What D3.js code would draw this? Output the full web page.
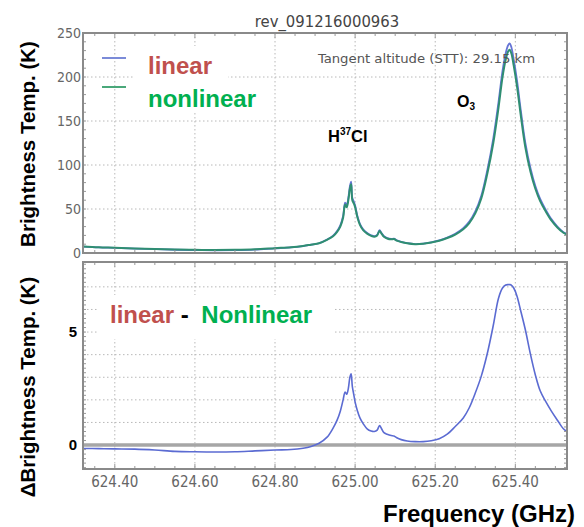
<!DOCTYPE html>
<html>
<head>
<meta charset="utf-8">
<script src="https://cdn.jsdelivr.net/npm/d3@7"></script>
<style>
  html, body { margin: 0; padding: 0; background: #fff; }
  svg { display: block; }
</style>
</head>
<body>
<svg id="chart" width="584" height="527"></svg>
<script>
// Frequency grid (GHz)
const freqGHz = [
  624.320, 624.360, 624.400, 624.450, 624.500, 624.550, 624.600, 624.650, 624.700, 624.750,
  624.800, 624.840, 624.870, 624.890, 624.910, 624.930, 624.945, 624.955, 624.963, 624.970,
  624.975, 624.979, 624.983, 624.987, 624.990, 624.993, 624.997, 625.000, 625.006, 625.012,
  625.020, 625.030, 625.040, 625.048, 625.055, 625.061, 625.066, 625.072, 625.080, 625.090,
  625.097, 625.104, 625.115, 625.130, 625.150, 625.170, 625.190, 625.210, 625.230, 625.250,
  625.270, 625.285, 625.300, 625.315, 625.330, 625.345, 625.358, 625.368, 625.376, 625.382,
  625.386, 625.390, 625.396, 625.404, 625.414, 625.425, 625.438, 625.450, 625.462, 625.475,
  625.490, 625.505, 625.520, 625.529
];

// Brightness temperature, nonlinear calibration (K)
const nonlinearK = [
  7.5, 6.5, 6.0, 5.2, 4.6, 4.0, 3.6, 3.4, 3.6, 4.2,
  5.5, 6.5, 8.0, 9.5, 11, 15, 19, 24, 30, 40,
  55, 52, 60, 73, 78, 60, 56, 52, 40, 32,
  26, 22, 19.5, 18.5, 20, 25, 22, 18.5, 16.5, 15.5,
  15.8, 14, 12.5, 11, 10, 10.5, 12, 14, 17, 21,
  27, 34, 45, 62, 90, 125, 165, 200, 220, 229,
  231, 227, 213, 190, 155, 120, 92, 73, 59, 48,
  37, 29, 23, 21
];

// Brightness temperature, linear calibration (K)
const linearK = [
  7.35, 6.34, 5.83, 5.02, 4.38, 3.72, 3.30, 3.09, 3.30, 3.94,
  5.28, 6.30, 7.86, 9.44, 11.08, 15.35, 19.75, 25.1, 31.5, 42.0,
  57.35, 54.25, 62.5, 76.0, 81.15, 62.6, 58.2, 53.9, 41.5, 33.2,
  26.95, 22.72, 20.12, 19.1, 20.66, 25.86, 22.72, 19.05, 16.98, 15.92,
  16.2, 14.32, 12.74, 11.18, 10.15, 10.65, 12.19, 14.28, 17.48, 21.82,
  28.2, 35.65, 47.3, 65.05, 94.05, 130.3, 171.5, 206.95, 227.08, 236.1,
  238.1, 234.08, 219.95, 196.6, 160.9, 125.1, 96.0, 76.1, 61.4, 49.95,
  38.5, 30.1, 23.72, 21.6
];

// Difference linear - nonlinear (K)
const deltaK = [
  -0.15, -0.16, -0.17, -0.18, -0.22, -0.28, -0.30, -0.31, -0.30, -0.26,
  -0.22, -0.20, -0.14, -0.06, 0.08, 0.35, 0.75, 1.1, 1.5, 2.0,
  2.35, 2.25, 2.5, 3.0, 3.15, 2.6, 2.2, 1.9, 1.5, 1.2,
  0.95, 0.72, 0.62, 0.60, 0.66, 0.86, 0.72, 0.55, 0.48, 0.42,
  0.40, 0.32, 0.24, 0.18, 0.15, 0.15, 0.19, 0.28, 0.48, 0.82,
  1.20, 1.65, 2.3, 3.05, 4.05, 5.3, 6.5, 6.95, 7.08, 7.1,
  7.1, 7.08, 6.95, 6.6, 5.9, 5.1, 4.0, 3.1, 2.4, 1.95,
  1.5, 1.1, 0.72, 0.6
];

const xTickValues = [624.40, 624.60, 624.80, 625.00, 625.20, 625.40];
const topTickValues = [0, 50, 100, 150, 200, 250];
const bottomTickValues = [0, 5];
const bottomGridValues = [1, 2, 3, 4, 5, 6, 7];

const svg = d3.select("#chart");
const L = 83, R = 567;
const top1 = 33, bot1 = 253;
const top2 = 262, bot2 = 469;

const x = d3.scaleLinear().domain([624.3206, 625.529]).range([L, R]);
const yTop = d3.scaleLinear().domain([0, 250]).range([bot1, top1]);
const yBot = d3.scaleLinear().domain([-1.06, 8.10]).range([bot2, top2]);

const gridColor = "#b8b8b8";
const frameColor = "#8a8a8a";

function grid(g, yScale, yVals, y0, y1) {
  g.selectAll("line.vg").data(xTickValues).join("line")
    .attr("class", "vg")
    .attr("x1", d => x(d)).attr("x2", d => x(d))
    .attr("y1", y0).attr("y2", y1)
    .attr("stroke", gridColor).attr("stroke-width", 1)
    .attr("stroke-dasharray", "1.5,2.5");
  g.selectAll("line.hg").data(yVals).join("line")
    .attr("class", "hg")
    .attr("x1", L).attr("x2", R)
    .attr("y1", d => yScale(d)).attr("y2", d => yScale(d))
    .attr("stroke", gridColor).attr("stroke-width", 1)
    .attr("stroke-dasharray", "1.5,2.5");
}

function frameTicks(g, yScale, yMinor, y0, y1) {
  // inward ticks on all sides
  const xMinor = d3.range(624.35, 625.53, 0.05);
  const tick = (x1, y1_, x2, y2) => g.append("line")
    .attr("x1", x1).attr("y1", y1_).attr("x2", x2).attr("y2", y2)
    .attr("stroke", "#999").attr("stroke-width", 1);
  xMinor.forEach(v => {
    const px = x(v);
    const major = xTickValues.some(t => Math.abs(t - v) < 1e-6);
    const len = major ? 5 : 3;
    tick(px, y1, px, y1 - len);
    tick(px, y0, px, y0 + len);
  });
  yMinor.forEach(v => {
    const py = yScale(v);
    tick(L, py, L + 3, py);
    tick(R, py, R - 3, py);
  });
  g.append("rect")
    .attr("x", L).attr("y", y0).attr("width", R - L).attr("height", y1 - y0)
    .attr("fill", "none").attr("stroke", frameColor).attr("stroke-width", 2);
}

// ---------- Upper panel ----------
const g1 = svg.append("g");
grid(g1, yTop, [50, 100, 150, 200], top1, bot1);

// white box behind legend
g1.append("rect").attr("x", 133).attr("y", 46).attr("width", 95).attr("height", 66).attr("fill", "#fff");

const lineTop = (vals) => d3.line()
  .x((d, i) => x(freqGHz[i]))
  .y(d => yTop(d))
  .curve(d3.curveCatmullRom.alpha(0.5))(vals);

g1.append("path").attr("d", lineTop(linearK))
  .attr("fill", "none").attr("stroke", "#6675d6").attr("stroke-width", 1.8);
g1.append("path").attr("d", lineTop(nonlinearK))
  .attr("fill", "none").attr("stroke", "#2f8e72").attr("stroke-width", 2);

frameTicks(g1, yTop, d3.range(10, 250, 10), top1, bot1);

// y tick labels
g1.selectAll("text.yt").data(topTickValues).join("text")
  .attr("class", "yt")
  .attr("x", 81).attr("y", d => yTop(d))
  .attr("dy", "0.36em")
  .attr("text-anchor", "end")
  .attr("font-family", "DejaVu Sans Condensed, DejaVu Sans")
  .attr("font-size", 14)
  .attr("fill", "#666")
  .text(d => d);

// title and annotation
svg.append("text").attr("x", 327).attr("y", 27).attr("text-anchor", "middle")
  .attr("font-family", "DejaVu Sans Condensed, DejaVu Sans").attr("font-size", 16.5)
  .attr("fill", "#444").text("rev_091216000963");
svg.append("text").attr("x", 318).attr("y", 63)
  .attr("font-family", "DejaVu Sans Condensed, DejaVu Sans").attr("font-size", 12.5)
  .attr("fill", "#555").attr("textLength", 217).attr("lengthAdjust", "spacingAndGlyphs")
  .text("Tangent altitude (STT):  29.15 km");

// legend
g1.append("line").attr("x1", 102).attr("x2", 126).attr("y1", 58).attr("y2", 58)
  .attr("stroke", "#7b8bd8").attr("stroke-width", 2);
g1.append("line").attr("x1", 102).attr("x2", 126).attr("y1", 87).attr("y2", 87)
  .attr("stroke", "#4aa87a").attr("stroke-width", 2);
const bold = "Liberation Sans, Arial, sans-serif";
g1.append("text").attr("x", 148).attr("y", 74).attr("font-family", bold)
  .attr("font-weight", "bold").attr("font-size", 24).attr("fill", "#c0504d").text("linear");
g1.append("text").attr("x", 148).attr("y", 107).attr("font-family", bold)
  .attr("font-weight", "bold").attr("font-size", 24).attr("fill", "#00b050").text("nonlinear");

// species labels
const o3 = g1.append("text").attr("x", 457).attr("y", 107).attr("font-family", bold)
  .attr("font-weight", "bold").attr("font-size", 16).attr("fill", "#000");
o3.append("tspan").text("O");
o3.append("tspan").attr("font-size", 10).attr("dy", 3).text("3");
const hcl = g1.append("text").attr("x", 328).attr("y", 142).attr("font-family", bold)
  .attr("font-weight", "bold").attr("font-size", 16.5).attr("fill", "#000");
hcl.append("tspan").text("H");
hcl.append("tspan").attr("font-size", 10).attr("dy", -7).text("37");
hcl.append("tspan").attr("dy", 7).text("Cl");

// ---------- Lower panel ----------
const g2 = svg.append("g");
grid(g2, yBot, bottomGridValues, top2, bot2);

// white box behind difference label
g2.append("rect").attr("x", 98).attr("y", 295).attr("width", 235).attr("height", 44).attr("fill", "#fff");

// zero reference
g2.append("line").attr("x1", L).attr("x2", R)
  .attr("y1", yBot(0)).attr("y2", yBot(0))
  .attr("stroke", "#a6a6a6").attr("stroke-width", 3.5);

const lineBot = d3.line()
  .x((d, i) => x(freqGHz[i]))
  .y(d => yBot(d))
  .curve(d3.curveCatmullRom.alpha(0.5));
g2.append("path").attr("d", lineBot(deltaK))
  .attr("fill", "none").attr("stroke", "#5b6bd2").attr("stroke-width", 1.6);

frameTicks(g2, yBot, d3.range(-1, 8.1, 0.2).filter(v => Math.abs(v) > 1e-6), top2, bot2);

g2.selectAll("text.yt").data(bottomTickValues).join("text")
  .attr("class", "yt")
  .attr("x", 77).attr("y", d => yBot(d))
  .attr("dy", "0.36em")
  .attr("text-anchor", "end")
  .attr("font-family", bold).attr("font-weight", "bold")
  .attr("font-size", 15).attr("fill", "#000")
  .text(d => d);

// x tick labels
g2.selectAll("text.xt").data(xTickValues).join("text")
  .attr("class", "xt")
  .attr("x", d => x(d)).attr("y", 487)
  .attr("text-anchor", "middle")
  .attr("font-family", "DejaVu Sans Condensed, DejaVu Sans")
  .attr("font-size", 15).attr("fill", "#666")
  .text(d => d3.format(".2f")(d));

// difference label
const diff = g2.append("text").attr("x", 110).attr("y", 323).attr("font-family", bold)
  .attr("font-weight", "bold").attr("font-size", 24);
diff.append("tspan").attr("fill", "#c0504d").text("linear");
diff.append("tspan").attr("fill", "#000").text(" - ");
diff.append("tspan").attr("fill", "#00b050").attr("dx", 6).text("Nonlinear");

// axis titles
svg.append("text").attr("transform", "translate(35,144) rotate(-90)")
  .attr("text-anchor", "middle").attr("font-family", bold).attr("font-weight", "bold")
  .attr("font-size", 20.5).attr("fill", "#000").text("Brightness Temp. (K)");
svg.append("text").attr("transform", "translate(35,387) rotate(-90)")
  .attr("text-anchor", "middle").attr("font-family", bold).attr("font-weight", "bold")
  .attr("font-size", 20.5).attr("fill", "#000").text("ΔBrightness Temp. (K)");
svg.append("text").attr("x", 575).attr("y", 522).attr("text-anchor", "end")
  .attr("font-family", bold).attr("font-weight", "bold")
  .attr("font-size", 24).attr("fill", "#000").text("Frequency (GHz)");
</script>
</body>
</html>
